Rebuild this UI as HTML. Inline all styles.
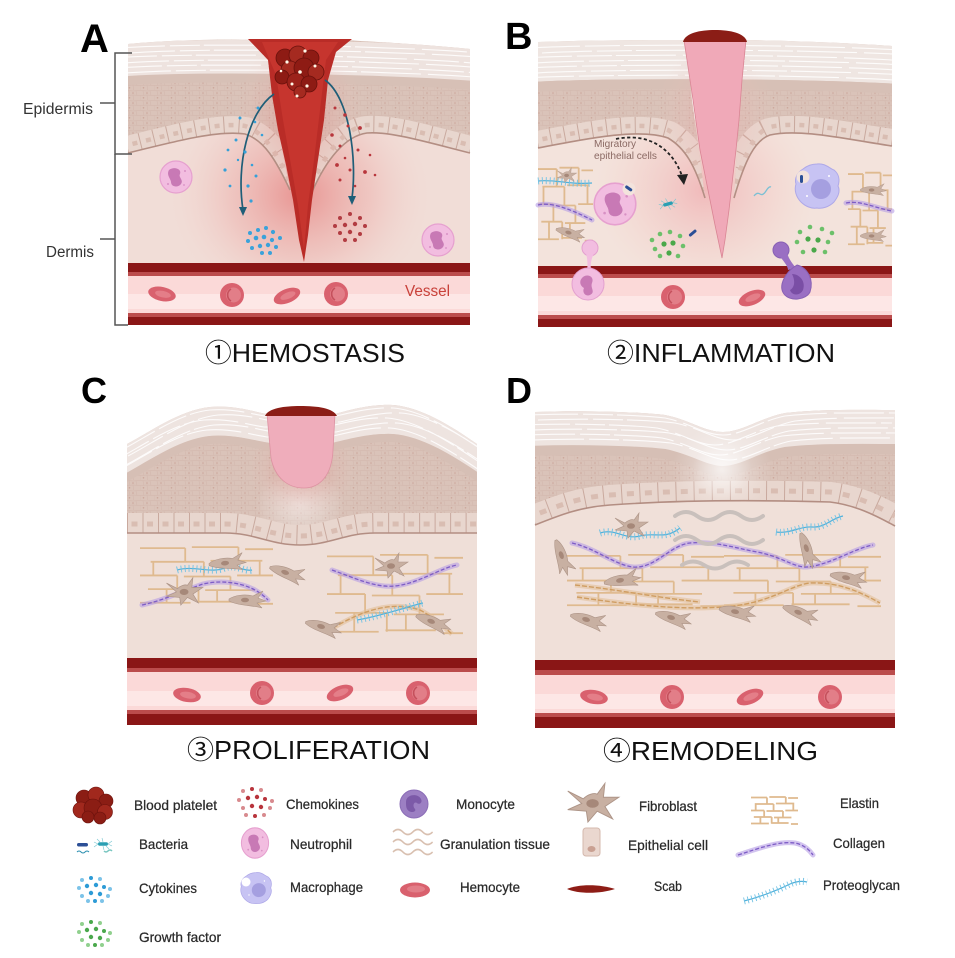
<!DOCTYPE html>
<html><head><meta charset="utf-8"><style>
html,body{margin:0;padding:0;background:#fff;}
svg{display:block;}
text{font-family:"Liberation Sans","Noto Sans CJK SC",sans-serif;}
.lg{font-size:14px;fill:#2a2a2a;stroke:#2a2a2a;stroke-width:0.25;}
.ttl{font-size:26px;fill:#111;}
.col1{fill:none;stroke:#b59ce4;stroke-width:5;opacity:.6;stroke-linecap:round}
.col2{fill:none;stroke:#7d5cc6;stroke-width:1.3;stroke-dasharray:4 2}
.pg1{fill:none;stroke:#4fb0da;stroke-width:1.2}
.pg2{fill:none;stroke:#72c2e4;stroke-width:7;stroke-dasharray:0.9 3}
.tn1{fill:none;stroke:#e2c09a;stroke-width:5;opacity:.6}
.tn2{fill:none;stroke:#cf9d62;stroke-width:1.4;stroke-dasharray:5 2}
.wv{fill:none;stroke:#c9c0bc;stroke-width:4;stroke-linecap:round}
</style></head><body>
<svg width="955" height="958" viewBox="0 0 955 958" xmlns="http://www.w3.org/2000/svg">
<defs>
 <pattern id="spin" width="14" height="10" patternUnits="userSpaceOnUse">
  <rect width="14" height="10" fill="#dac3b9"/>
  <path d="M0,0.5 L7,1 L14,0.5 M3,1 L4,5.5 M10,1 L11,5.5 M0,5.5 L7,5 L14,5.5 M7,5 L7.5,10 M0,5.5 L0,10" stroke="#cdb0a5" stroke-width="0.5" fill="none" opacity="0.7"/>
  <circle cx="7" cy="3" r="0.8" fill="#cba69b"/>
  <circle cx="3.5" cy="7.8" r="0.8" fill="#cba69b"/>
 </pattern>
 <radialGradient id="glow">
  <stop offset="0" stop-color="#e26464" stop-opacity="0.6"/>
  <stop offset="0.55" stop-color="#ea9390" stop-opacity="0.3"/>
  <stop offset="1" stop-color="#f2c9c4" stop-opacity="0"/>
 </radialGradient>
 <radialGradient id="glowP">
  <stop offset="0" stop-color="#ee8f98" stop-opacity="0.5"/>
  <stop offset="0.6" stop-color="#f2b5b4" stop-opacity="0.25"/>
  <stop offset="1" stop-color="#f2c9c4" stop-opacity="0"/>
 </radialGradient>
 <radialGradient id="wht">
  <stop offset="0" stop-color="#ffffff" stop-opacity="0.5"/>
  <stop offset="1" stop-color="#ffffff" stop-opacity="0"/>
 </radialGradient>

 <path id="tA" d="M120,44 C200,38 400,42 480,49"/>
 <path id="tB" d="M530,44 C600,40 800,40 900,46"/>
 <path id="tC" d="M120,448 C150,432 180,410 210,407 C235,405 255,412 270,414 L332,414 C350,410 370,404 393,405 C420,407 450,425 485,449"/>
 <path id="tD" d="M528,412 C580,410 640,412 665,415 C690,420 705,432 723,432 C742,432 760,418 785,413 C820,409 860,410 900,410"/>

 <path id="bAL" d="M128,153 C180,140 220,130 245,134 C264,140 276,160 290,190"/>
 <path id="bAR" d="M470,153 C430,143 390,131 367,133 C345,136 326,160 312,192"/>
 <path id="bBL" d="M538,148 C590,138 640,128 668,138 C685,148 695,165 705,198"/>
 <path id="bBR" d="M892,146 C850,140 800,128 770,135 C755,140 745,160 734,198"/>
 <path id="bC" d="M127,533 L225,533 C255,533 270,545 300,545 C330,545 345,533 375,533 L477,533"/>
 <path id="bD" d="M535,525 C560,515 580,507 610,505 C680,500 760,500 830,502 C855,505 875,515 895,526"/>

 <clipPath id="cA">
  <path d="M128,44 C170,40 220,39 258,40 L272,60 L276,110 L282,150 L290,190 C276,160 264,140 245,134 C220,130 180,140 128,153 Z"/>
  <path d="M342,40 C400,43 440,46 470,49 L470,153 C430,143 390,131 367,133 C345,136 326,160 312,192 L318,150 L324,110 L330,60 Z"/>
 </clipPath>
 <clipPath id="cB">
  <path d="M538,42 C600,40 650,40 686,40 L692,100 L699,150 L705,198 C695,165 685,148 668,138 C640,128 590,138 538,148 Z"/>
  <path d="M744,40 C800,41 850,43 892,46 L892,146 C850,140 800,128 770,135 C755,140 745,160 734,198 L738,130 L741,80 Z"/>
 </clipPath>
 <clipPath id="cC">
  <path d="M127,444 C150,432 180,410 210,407 C235,405 255,412 267,414 L335,414 C350,410 370,404 393,405 C420,407 450,425 477,444 L477,533 L375,533 C345,533 330,545 300,545 C270,545 255,533 225,533 L127,533 Z"/>
 </clipPath>
 <clipPath id="cD">
  <path d="M535,412 C580,410 640,412 665,415 C690,420 705,432 723,432 C742,432 760,418 785,413 C820,409 860,410 895,410 L895,526 C875,515 855,505 830,502 C760,500 680,500 610,505 C580,507 560,515 535,525 Z"/>
 </clipPath>

 <g id="rbc"><circle r="12" fill="#d9616e"/><circle cx="1.5" cy="0" r="7.5" fill="#e27e88"/><path d="M-1,-6 a7,7 0 0,0 0,12" fill="none" stroke="#c5505c" stroke-width="1.6"/></g>
 <g id="rbce"><ellipse rx="14" ry="7" fill="#d9616e"/><ellipse cx="1" rx="8" ry="3.3" fill="#e47e88"/></g>

 <g id="neu"><circle r="16" fill="#f2bde0" stroke="#e6a0cf" stroke-width="1.2"/><path d="M-7,-7 C-2,-11 6,-8 4,-3 C2,0 8,3 5,7 C2,11 -5,10 -5,5 C-5,2 -10,-2 -7,-7 Z" fill="#c879b5"/><circle cx="-8" cy="7" r="1" fill="#d890c4"/><circle cx="9" cy="-6" r="1" fill="#d890c4"/><circle cx="8" cy="8" r="0.9" fill="#d890c4"/></g>
 <g id="mac"><path d="M0,-22 C8,-23 12,-18 17,-16 C22,-12 23,-6 21,0 C24,6 20,12 17,16 C12,21 5,23 0,22 C-6,23 -12,20 -16,16 C-21,11 -23,4 -21,-2 C-23,-8 -19,-14 -14,-17 C-9,-21 -5,-22 0,-22 Z" fill="#c7c3f3" stroke="#aea8e8" stroke-width="1"/><circle cx="4" cy="3" r="10" fill="#a59fe0"/><circle cx="-10" cy="10" r="1" fill="#fff"/><circle cx="12" cy="-10" r="1" fill="#fff"/></g>
 <g id="mono"><circle r="14" fill="#9c7fc3" stroke="#8b6db7" stroke-width="1"/><path d="M-8,-2 C-8,-10 4,-11 7,-5 C9,-1 5,1 3,-1 C0,-3 -2,2 1,5 C3,8 -4,10 -7,5 C-8,3 -8,1 -8,-2 Z" fill="#7c5aa8"/></g>

 <g id="fbe"><path d="M-18,-1 C-12,-5 -2,-6 6,-4 L16,-9 L11,-2 L19,1 L10,3 L15,8 C5,5 -8,6 -18,1 Z" fill="#c8b0a2" stroke="#ad9487" stroke-width="0.6"/><ellipse cx="-2" cy="0" rx="4" ry="2.3" fill="#a68879"/></g>
 <g id="fbs"><path d="M-15,-9 L-5,-4 C-2,-7 2,-8 4,-7 L9,-14 L8,-5 L18,-5 L9,1 L14,9 L4,4 L-2,11 L-3,4 L-15,3 L-6,-1 Z" fill="#c8b0a2" stroke="#ad9487" stroke-width="0.6"/><ellipse cx="1" cy="-1" rx="4" ry="2.8" fill="#a68879"/></g>

 <g id="el" fill="none" stroke="#dfba8f" stroke-width="1.8">
  <path vector-effect="non-scaling-stroke" d="M0,3 H34 M39,2 H74 M79,4 H100 M8,16 H48 M53,15 H92 M0,29 H28 M33,30 H68 M73,29 H100 M6,42 H44 M49,43 H86 M0,55 H38 M43,54 H80 M85,56 H100 M34,3 V16 M48,16 V30 M74,2 V15 M28,29 V42 M68,30 V43 M20,42 V55 M90,15 V29 M10,16 V29 M58,43 V54 M44,42 V55"/>
 </g>
 <g id="bact"><rect x="-5" y="-1.7" width="10" height="3.4" rx="1.7" fill="#2a9fb3"/><path d="M-5,0 l-4,-2 M-5,0 l-4,3 M5,0 l4,-3 M5,0 l4,2 M0,-2 l-1,-4 M0,2 l1,4 M-3,-2 l-3,-3 M3,2 l3,3" stroke="#78c6d0" stroke-width="0.6"/></g>
 <path id="wvL" d="M0,0 q5.5,-5 11,0 t11,0 t11,0 t11,0"/>
</defs>

<!-- ================= PANEL A ================= -->
<rect x="128" y="120" width="342" height="145" fill="#f1ddd7"/>
<ellipse cx="300" cy="195" rx="130" ry="115" fill="url(#glow)"/>
<g clip-path="url(#cA)">
 <rect x="120" y="30" width="360" height="200" fill="url(#spin)"/>
 <use href="#tA" transform="translate(0,16)" fill="none" stroke="#eee3df" stroke-width="34"/>
 <g fill="none" stroke="#fff" stroke-width="1.1" opacity="0.85" stroke-dasharray="45 5 30 4 60 7">
  <use href="#tA" transform="translate(0,4)"/><use href="#tA" transform="translate(10,9)"/><use href="#tA" transform="translate(-8,14)"/>
  <use href="#tA" transform="translate(4,19)"/><use href="#tA" transform="translate(-3,24)"/><use href="#tA" transform="translate(6,29)"/>
 </g>
 <use href="#tA" transform="translate(0,37)" fill="none" stroke="#d7c0b6" stroke-width="9"/>
 <g fill="none" stroke="#e8d6ce" stroke-width="34"><use href="#bAL"/><use href="#bAR"/></g>
 <g fill="none" stroke="#c9a99e" stroke-width="34" stroke-dasharray="1 13"><use href="#bAL"/><use href="#bAR"/></g>
 <g fill="none" stroke="#d9bdb2" stroke-width="4.5" stroke-dasharray="5 9" stroke-dashoffset="-4.5"><use href="#bAL" transform="translate(0,-8)"/><use href="#bAR" transform="translate(0,-8)"/></g>
 <ellipse cx="300" cy="120" rx="65" ry="85" fill="url(#glow)" opacity="0.6"/>
</g>
<g fill="none" stroke="#b38e83" stroke-width="1.6"><use href="#bAL"/><use href="#bAR"/></g>
<!-- wound -->
<path d="M248,39 L352,39 L336,52 L328,80 L324,120 L318,160 L312,200 L308,235 L304,262 L299,240 L293,200 L286,165 L278,130 L272,95 L268,60 Z" fill="#b92c27"/>
<path d="M262,42 L338,42 L326,60 L320,110 L314,160 L308,205 L304,250 L298,205 L291,165 L283,120 L276,75 Z" fill="#c6352e"/>
<!-- clot -->
<g stroke="#6a110c" stroke-width="0.8">
 <circle cx="285" cy="58" r="9" fill="#8e1b14"/><circle cx="298" cy="55" r="9" fill="#a52a20"/><circle cx="311" cy="58" r="8" fill="#8e1b14"/>
 <circle cx="290" cy="70" r="9" fill="#a52a20"/><circle cx="304" cy="68" r="10" fill="#8e1b14"/><circle cx="316" cy="72" r="8" fill="#a52a20"/>
 <circle cx="282" cy="77" r="7" fill="#8e1b14"/><circle cx="296" cy="82" r="9" fill="#9c221a"/><circle cx="309" cy="84" r="8" fill="#8e1b14"/><circle cx="300" cy="92" r="6" fill="#a52a20"/>
</g>
<g fill="#fff8e8"><circle cx="287" cy="62" r="1.6"/><circle cx="305" cy="51" r="1.6"/><circle cx="300" cy="72" r="1.8"/><circle cx="315" cy="66" r="1.5"/><circle cx="292" cy="84" r="1.5"/><circle cx="307" cy="86" r="1.6"/><circle cx="297" cy="96" r="1.5"/><circle cx="281" cy="71" r="1.3"/></g>
<!-- arrows -->
<path d="M274,94 C248,112 236,165 243,210" fill="none" stroke="#1f5e78" stroke-width="1.7"/>
<path d="M239,207 L247,207 L243,216 Z" fill="#1f5e78"/>
<path d="M325,80 C350,98 357,160 352,198" fill="none" stroke="#1f5e78" stroke-width="1.7"/>
<path d="M348,196 L356,196 L352,205 Z" fill="#1f5e78"/>
<!-- cytokines -->
<g fill="#36a0d8">
 <circle cx="258" cy="108" r="1.5"/><circle cx="240" cy="118" r="1.5"/><circle cx="255" cy="122" r="1.3"/><circle cx="236" cy="140" r="1.5"/><circle cx="262" cy="135" r="1.3"/>
 <circle cx="228" cy="150" r="1.4"/><circle cx="245" cy="152" r="1.6"/><circle cx="225" cy="170" r="1.6"/><circle cx="252" cy="165" r="1.3"/><circle cx="256" cy="176" r="1.5"/>
 <circle cx="230" cy="186" r="1.4"/><circle cx="248" cy="186" r="1.6"/><circle cx="251" cy="201" r="1.6"/><circle cx="238" cy="160" r="1.2"/>
</g>
<g fill="#3aa2da">
 <circle cx="250" cy="233" r="2"/><circle cx="258" cy="230" r="2"/><circle cx="266" cy="228" r="2"/><circle cx="273" cy="232" r="2.1"/><circle cx="248" cy="241" r="2"/>
 <circle cx="256" cy="238" r="2.3"/><circle cx="264" cy="237" r="2.3"/><circle cx="272" cy="240" r="2.1"/><circle cx="280" cy="238" r="2"/><circle cx="252" cy="248" r="2"/>
 <circle cx="260" cy="246" r="2.2"/><circle cx="268" cy="245" r="2.2"/><circle cx="276" cy="247" r="2"/><circle cx="262" cy="253" r="2"/><circle cx="270" cy="253" r="2"/>
</g>
<!-- chemokines -->
<g fill="#b8363c">
 <circle cx="335" cy="108" r="1.5"/><circle cx="345" cy="115" r="1.8"/><circle cx="348" cy="126" r="1.5"/><circle cx="332" cy="135" r="1.8"/><circle cx="360" cy="128" r="1.9"/>
 <circle cx="340" cy="146" r="1.5"/><circle cx="358" cy="150" r="1.5"/><circle cx="370" cy="155" r="1.3"/><circle cx="337" cy="165" r="1.9"/><circle cx="350" cy="170" r="1.5"/>
 <circle cx="365" cy="172" r="1.9"/><circle cx="375" cy="175" r="1.3"/><circle cx="340" cy="180" r="1.5"/><circle cx="355" cy="186" r="1.3"/><circle cx="345" cy="158" r="1.3"/>
</g>
<g fill="#b23c42">
 <circle cx="340" cy="218" r="2"/><circle cx="350" cy="214" r="2"/><circle cx="360" cy="218" r="2"/><circle cx="335" cy="226" r="2"/><circle cx="345" cy="225" r="2.2"/>
 <circle cx="355" cy="224" r="2.2"/><circle cx="365" cy="226" r="2"/><circle cx="340" cy="233" r="2"/><circle cx="350" cy="232" r="2.2"/><circle cx="360" cy="234" r="2"/><circle cx="345" cy="240" r="2"/><circle cx="355" cy="240" r="2"/>
</g>
<use href="#neu" transform="translate(176,177)"/>
<use href="#neu" transform="translate(438,240)"/>
<!-- vessel A -->
<rect x="128" y="263" width="342" height="10" fill="#8a1616"/>
<rect x="128" y="272" width="342" height="4" fill="#bb4c4c"/>
<rect x="128" y="276" width="342" height="37" fill="#fbd9d8"/>
<rect x="128" y="294" width="342" height="15" fill="#fde7e6"/>
<rect x="128" y="313" width="342" height="4" fill="#bb4c4c"/>
<rect x="128" y="317" width="342" height="8" fill="#8a1616"/>
<use href="#rbce" transform="translate(162,294) rotate(12)"/>
<use href="#rbc" transform="translate(232,295)"/>
<use href="#rbce" transform="translate(287,296) rotate(-22)"/>
<use href="#rbc" transform="translate(336,294)"/>
<text x="405" y="296" font-size="16" fill="#c8413a" textLength="45" lengthAdjust="spacingAndGlyphs">Vessel</text>

<!-- brackets -->
<g fill="none" stroke="#555" stroke-width="1.5">
 <path d="M132,53 H115 V154 H132"/>
 <path d="M100,103 H115"/>
 <path d="M115,154 V325 H128"/>
 <path d="M100,239 H115"/>
</g>
<text x="23" y="114" font-size="15.5" fill="#333" textLength="70" lengthAdjust="spacingAndGlyphs">Epidermis</text>
<text x="46" y="257" font-size="15.5" fill="#333" textLength="48" lengthAdjust="spacingAndGlyphs">Dermis</text>
<text x="80" y="52" font-size="40" font-weight="bold" fill="#000">A</text>

<!-- ================= PANEL B ================= -->
<rect x="538" y="120" width="354" height="147" fill="#f3e3dc"/>
<ellipse cx="705" cy="190" rx="110" ry="100" fill="url(#glowP)"/>
<g clip-path="url(#cB)">
 <rect x="530" y="30" width="370" height="200" fill="url(#spin)"/>
 <use href="#tB" transform="translate(0,18)" fill="none" stroke="#efe6e2" stroke-width="40"/>
 <g fill="none" stroke="#fff" stroke-width="1.1" opacity="0.85" stroke-dasharray="50 5 35 4 60 7">
  <use href="#tB" transform="translate(0,4)"/><use href="#tB" transform="translate(12,9)"/><use href="#tB" transform="translate(-8,14)"/>
  <use href="#tB" transform="translate(4,19)"/><use href="#tB" transform="translate(-3,24)"/><use href="#tB" transform="translate(6,29)"/><use href="#tB" transform="translate(-6,34)"/>
 </g>
 <use href="#tB" transform="translate(0,43)" fill="none" stroke="#d7c0b6" stroke-width="10"/>
 <g fill="none" stroke="#e8d6ce" stroke-width="34"><use href="#bBL"/><use href="#bBR"/></g>
 <g fill="none" stroke="#c9a99e" stroke-width="34" stroke-dasharray="1 13"><use href="#bBL"/><use href="#bBR"/></g>
 <g fill="none" stroke="#d9bdb2" stroke-width="4.5" stroke-dasharray="5 9" stroke-dashoffset="-4.5"><use href="#bBL" transform="translate(0,-8)"/><use href="#bBR" transform="translate(0,-8)"/></g>
 <ellipse cx="715" cy="120" rx="60" ry="80" fill="url(#glowP)" opacity="0.6"/>
</g>
<g fill="none" stroke="#b38e83" stroke-width="1.6"><use href="#bBL"/><use href="#bBR"/></g>
<path d="M684,40 L746,40 L742,80 L739,120 L736,150 L733,175 L729,210 L725,240 L722,258 L715,225 L708,190 L700,150 L693,100 Z" fill="#f0a9b8" stroke="#d98594" stroke-width="0.8"/>
<path d="M683,42 C685,33 700,30 715,30 C730,30 745,33 747,42 Z" fill="#8b1d16"/>
<!-- fibers left -->
<use href="#el" transform="translate(538,165) scale(0.55,1.35)"/>
<path class="pg1" d="M538,181 C555,179 570,185 592,183"/><path class="pg2" d="M538,181 C555,179 570,185 592,183"/>
<path class="col1" d="M538,205 C550,202 565,208 575,212 C582,215 588,218 592,220"/><path class="col2" d="M538,205 C550,202 565,208 575,212 C582,215 588,218 592,220"/>
<use href="#fbs" transform="translate(566,176) scale(0.6)"/>
<use href="#fbe" transform="translate(570,233) rotate(15) scale(0.8)"/>
<!-- fibers right -->
<use href="#el" transform="translate(848,170) scale(0.44,1.35)"/>
<path class="col1" d="M846,203 C860,200 875,208 892,211"/><path class="col2" d="M846,203 C860,200 875,208 892,211"/>
<use href="#fbe" transform="translate(873,190) scale(0.7)"/>
<use href="#fbe" transform="translate(873,236) scale(0.7)"/>
<!-- migratory -->
<path d="M616,139 C650,132 673,150 682,176" fill="none" stroke="#222" stroke-width="1.8" stroke-dasharray="3.2 2.4"/>
<path d="M677,175 L688,174 L684,185 Z" fill="#222"/>
<text x="594" y="147" font-size="10.5" fill="#8b6a64" textLength="42" lengthAdjust="spacingAndGlyphs">Migratory</text>
<text x="594" y="159" font-size="10.5" fill="#8b6a64" textLength="63" lengthAdjust="spacingAndGlyphs">epithelial cells</text>
<!-- cells B -->
<use href="#neu" transform="translate(615,204) scale(1.3)"/>
<circle cx="629" cy="189" r="6.5" fill="#f3e3dc"/>
<rect x="625" y="187" width="8" height="3" rx="1.5" fill="#2c4f96" transform="rotate(35 629 188)"/>
<use href="#mac" transform="translate(817,186)"/>
<circle cx="803" cy="177" r="6.5" fill="#f3e3dc"/>
<rect x="800" y="175" width="3" height="8" rx="1.5" fill="#2c4f96"/>
<use href="#bact" transform="translate(668,204) rotate(-15)"/>
<rect x="688" y="232" width="9" height="3" rx="1.5" fill="#2c4f96" transform="rotate(-40 692 233)"/>
<path d="M754,196 q3,-4 6,-2 t6,-3 t5,-4" fill="none" stroke="#7cc0d4" stroke-width="1.3"/>
<g fill="#6cc06a">
 <circle cx="652" cy="240" r="2.3"/><circle cx="660" cy="234" r="2.3"/><circle cx="670" cy="232" r="2.3"/><circle cx="680" cy="236" r="2.3"/><circle cx="655" cy="249" r="2.3"/>
 <circle cx="664" cy="244" r="2.6" fill="#4aa84a"/><circle cx="673" cy="243" r="2.6" fill="#4aa84a"/><circle cx="683" cy="246" r="2.3"/><circle cx="660" cy="256" r="2.3"/><circle cx="669" cy="253" r="2.6" fill="#4aa84a"/><circle cx="678" cy="256" r="2.3"/>
</g>
<g fill="#6cc06a">
 <circle cx="800" cy="232" r="2.3"/><circle cx="810" cy="227" r="2.3"/><circle cx="822" cy="229" r="2.3"/><circle cx="832" cy="233" r="2.3"/><circle cx="797" cy="242" r="2.3"/>
 <circle cx="808" cy="239" r="2.6" fill="#4aa84a"/><circle cx="818" cy="240" r="2.6" fill="#4aa84a"/><circle cx="828" cy="242" r="2.3"/><circle cx="803" cy="252" r="2.3"/><circle cx="814" cy="250" r="2.6" fill="#4aa84a"/><circle cx="825" cy="252" r="2.3"/>
</g>
<!-- vessel B -->
<rect x="538" y="266" width="354" height="9" fill="#8a1616"/>
<rect x="538" y="274" width="354" height="4" fill="#bb4c4c"/>
<rect x="538" y="278" width="354" height="37" fill="#fbd9d8"/>
<rect x="538" y="296" width="354" height="15" fill="#fde7e6"/>
<rect x="538" y="315" width="354" height="4" fill="#bb4c4c"/>
<rect x="538" y="319" width="354" height="8" fill="#8a1616"/>
<use href="#rbc" transform="translate(673,297)"/>
<use href="#rbce" transform="translate(752,298) rotate(-22)"/>
<!-- transmigrating -->
<g fill="#f2bde0" stroke="#e3a0cf" stroke-width="1">
 <circle cx="590" cy="248" r="8"/>
 <path d="M586,253 C588,262 588,268 586,272 L592,272 C590,268 590,262 594,253 Z" stroke="none"/>
 <circle cx="588" cy="284" r="16"/>
</g>
<path d="M582,278 C586,273 595,276 592,283 C590,288 596,292 590,295 C585,297 582,292 584,288 C580,286 579,281 582,278 Z" fill="#c879b5"/>
<g fill="#9a6fc3" stroke="#8760b4" stroke-width="1">
 <circle cx="781" cy="250" r="8"/>
 <path d="M779,255 C784,262 788,266 788,270 L796,268 C792,263 788,258 787,252 Z" stroke="none"/>
 <path d="M797,265 C808,268 814,280 810,292 C806,300 790,302 784,294 C778,286 785,272 797,265 Z"/>
</g>
<path d="M792,274 C800,274 806,282 803,290 C800,296 792,296 790,290 C794,288 796,282 792,274 Z" fill="#7a4ea5"/>
<text x="505" y="49" font-size="38" font-weight="bold" fill="#000">B</text>

<!-- ================= PANEL C ================= -->
<rect x="127" y="480" width="350" height="180" fill="#efdfd8"/>
<g clip-path="url(#cC)">
 <rect x="120" y="400" width="365" height="150" fill="url(#spin)"/>
 <use href="#tC" transform="translate(0,14)" fill="none" stroke="#eee4e0" stroke-width="30"/>
 <g fill="none" stroke="#fff" stroke-width="1.1" opacity="0.85" stroke-dasharray="40 5 30 4 55 7">
  <use href="#tC" transform="translate(0,3)"/><use href="#tC" transform="translate(8,8)"/><use href="#tC" transform="translate(-6,13)"/>
  <use href="#tC" transform="translate(4,18)"/><use href="#tC" transform="translate(-3,23)"/>
 </g>
 <use href="#tC" transform="translate(0,33)" fill="none" stroke="#d6bfb5" stroke-width="8"/>
 <ellipse cx="300" cy="505" rx="45" ry="35" fill="url(#wht)"/>
 <g fill="none" stroke="#e8d6ce" stroke-width="40"><use href="#bC"/></g>
 <g fill="none" stroke="#c9a99e" stroke-width="40" stroke-dasharray="1 14.5"><use href="#bC"/></g>
 <g fill="none" stroke="#d9bdb2" stroke-width="5" stroke-dasharray="6 9.5" stroke-dashoffset="-4.5"><use href="#bC" transform="translate(0,-9)"/></g>
 <ellipse cx="302" cy="470" rx="55" ry="50" fill="url(#glow)" opacity="0.5"/>
</g>
<use href="#bC" fill="none" stroke="#b38e83" stroke-width="1.6"/>
<path d="M267,414 L335,414 L333,450 C332,475 320,488 304,488 C288,488 275,478 271,458 Z" fill="#efadbb" stroke="#dd92a2" stroke-width="0.8"/>
<path d="M265,416 C268,408 285,406 300,406 C318,406 333,408 337,416 Z" fill="#8b1d16"/>
<!-- fibers C -->
<use href="#el" transform="translate(140,545) scale(1.33,1.05)"/>
<use href="#el" transform="translate(327,552) scale(1.36,1.45)"/>
<path class="pg1" d="M177,570 C195,565 210,574 225,568 C235,564 245,572 252,570"/><path class="pg2" d="M177,570 C195,565 210,574 225,568 C235,564 245,572 252,570"/>
<path class="col1" d="M142,605 C165,600 185,590 203,584 C220,580 240,582 255,590 C262,594 266,598 268,600"/><path class="col2" d="M142,605 C165,600 185,590 203,584 C220,580 240,582 255,590 C262,594 266,598 268,600"/>
<path class="tn1" d="M333,628 C360,612 390,600 420,610 C435,618 445,628 452,634"/><path class="tn2" d="M333,628 C360,612 390,600 420,610 C435,618 445,628 452,634"/>
<path class="col1" d="M332,570 C355,578 375,588 395,586 C420,583 440,568 457,565"/><path class="col2" d="M332,570 C355,578 375,588 395,586 C420,583 440,568 457,565"/>
<path class="pg1" d="M357,620 C375,617 390,612 405,608 C412,606 418,604 423,603"/><path class="pg2" d="M357,620 C375,617 390,612 405,608 C412,606 418,604 423,603"/>
<use href="#fbe" transform="translate(227,563) rotate(-5)"/>
<use href="#fbs" transform="translate(183,593) scale(1.1)"/>
<use href="#fbe" transform="translate(287,573) rotate(18)"/>
<use href="#fbe" transform="translate(247,600)"/>
<use href="#fbs" transform="translate(390,567)"/>
<use href="#fbe" transform="translate(323,627) rotate(15)"/>
<use href="#fbe" transform="translate(433,622) rotate(20)"/>
<!-- vessel C -->
<rect x="127" y="658" width="350" height="10" fill="#8a1616"/>
<rect x="127" y="668" width="350" height="4" fill="#bb4c4c"/>
<rect x="127" y="672" width="350" height="38" fill="#fbd9d8"/>
<rect x="127" y="691" width="350" height="15" fill="#fde7e6"/>
<rect x="127" y="710" width="350" height="4" fill="#bb4c4c"/>
<rect x="127" y="714" width="350" height="11" fill="#8a1616"/>
<use href="#rbce" transform="translate(187,695) rotate(10)"/>
<use href="#rbc" transform="translate(262,693)"/>
<use href="#rbce" transform="translate(340,693) rotate(-22)"/>
<use href="#rbc" transform="translate(418,693)"/>
<text x="81" y="403" font-size="36" font-weight="bold" fill="#000">C</text>

<!-- ================= PANEL D ================= -->
<rect x="535" y="480" width="360" height="182" fill="#f0e0d9"/>
<g clip-path="url(#cD)">
 <rect x="528" y="400" width="372" height="140" fill="url(#spin)"/>
 <use href="#tD" transform="translate(0,17)" fill="none" stroke="#eee4e0" stroke-width="36"/>
 <g fill="none" stroke="#fff" stroke-width="1.1" opacity="0.85" stroke-dasharray="50 5 30 4 60 7">
  <use href="#tD" transform="translate(0,3)"/><use href="#tD" transform="translate(10,8)"/><use href="#tD" transform="translate(-8,13)"/>
  <use href="#tD" transform="translate(4,18)"/><use href="#tD" transform="translate(-3,23)"/><use href="#tD" transform="translate(6,28)"/>
 </g>
 <use href="#tD" transform="translate(0,39)" fill="none" stroke="#d6bfb5" stroke-width="10"/>
 <g fill="none" stroke="#e8d6ce" stroke-width="40"><use href="#bD"/></g>
 <g fill="none" stroke="#c9a99e" stroke-width="40" stroke-dasharray="1 17"><use href="#bD"/></g>
 <g fill="none" stroke="#d9bdb2" stroke-width="5" stroke-dasharray="7 11" stroke-dashoffset="-5"><use href="#bD" transform="translate(0,-10)"/></g>
 <ellipse cx="722" cy="470" rx="50" ry="45" fill="url(#wht)"/>
 <ellipse cx="722" cy="470" rx="30" ry="30" fill="url(#wht)"/>
</g>
<use href="#bD" fill="none" stroke="#b38e83" stroke-width="1.6"/>
<!-- fibers D -->
<use href="#el" transform="translate(567,553) scale(1.57,0.95)"/>
<use href="#el" transform="translate(724,553) scale(1.57,0.95)"/>
<path class="tn1" d="M575,585 C620,590 660,598 700,602"/><path class="tn2" d="M575,585 C620,590 660,598 700,602"/>
<path class="tn1" d="M577,597 C630,605 680,610 723,607 C770,604 790,585 810,583 C840,582 860,592 880,603"/><path class="tn2" d="M577,597 C630,605 680,610 723,607 C770,604 790,585 810,583 C840,582 860,592 880,603"/>
<path class="col1" d="M572,543 C595,548 615,565 633,567 C655,569 670,545 690,543 C715,541 735,548 757,552 C780,556 795,568 807,567 C830,565 855,548 873,545"/>
<path class="col2" d="M572,543 C595,548 615,565 633,567 C655,569 670,545 690,543 C715,541 735,548 757,552 C780,556 795,568 807,567 C830,565 855,548 873,545"/>
<path class="pg1" d="M600,533 C615,528 625,540 640,536 C655,532 665,540 680,528"/><path class="pg2" d="M600,533 C615,528 625,540 640,536 C655,532 665,540 680,528"/>
<path class="pg1" d="M776,532 C790,534 800,526 812,527 C825,528 832,518 843,516"/><path class="pg2" d="M776,532 C790,534 800,526 812,527 C825,528 832,518 843,516"/>
<path class="wv" d="M675,516 q11,-8 22,0 t22,0 t22,0 t22,0"/>
<path class="wv" d="M675,540 q11,-8 22,0 t22,0 t22,0 t22,0"/>
<path class="wv" d="M682,565 q11,-7 22,0 t22,0 t22,0"/>
<use href="#fbs" transform="translate(630,527)"/>
<use href="#fbe" transform="translate(562,557) rotate(70)"/>
<use href="#fbe" transform="translate(807,550) rotate(70)"/>
<use href="#fbe" transform="translate(588,620) rotate(15)"/>
<use href="#fbe" transform="translate(673,618) rotate(15)"/>
<use href="#fbe" transform="translate(737,612) rotate(10)"/>
<use href="#fbe" transform="translate(800,613) rotate(20)"/>
<use href="#fbe" transform="translate(848,578) rotate(10)"/>
<use href="#fbe" transform="translate(622,580) rotate(-10)"/>
<!-- vessel D -->
<rect x="535" y="660" width="360" height="10" fill="#8a1616"/>
<rect x="535" y="670" width="360" height="5" fill="#bb4c4c"/>
<rect x="535" y="675" width="360" height="38" fill="#fbd9d8"/>
<rect x="535" y="694" width="360" height="15" fill="#fde7e6"/>
<rect x="535" y="713" width="360" height="4" fill="#bb4c4c"/>
<rect x="535" y="717" width="360" height="11" fill="#8a1616"/>
<use href="#rbce" transform="translate(594,697) rotate(10)"/>
<use href="#rbc" transform="translate(672,697)"/>
<use href="#rbce" transform="translate(750,697) rotate(-22)"/>
<use href="#rbc" transform="translate(830,697)"/>
<text x="506" y="403" font-size="36" font-weight="bold" fill="#000">D</text>

<!-- titles -->
<text class="ttl" x="205" y="362" textLength="200" lengthAdjust="spacingAndGlyphs">①HEMOSTASIS</text>
<text class="ttl" x="607" y="362" textLength="228" lengthAdjust="spacingAndGlyphs">②INFLAMMATION</text>
<text class="ttl" x="187" y="759" textLength="243" lengthAdjust="spacingAndGlyphs">③PROLIFERATION</text>
<text class="ttl" x="603" y="760" textLength="215" lengthAdjust="spacingAndGlyphs">④REMODELING</text>

<!-- ================= LEGEND ================= -->
<g stroke="#6a110c" stroke-width="0.6">
 <circle cx="84" cy="798" r="8" fill="#8b1d14"/><circle cx="96" cy="795" r="8" fill="#a1281d"/><circle cx="106" cy="801" r="7" fill="#8b1d14"/>
 <circle cx="81" cy="810" r="8" fill="#a1281d"/><circle cx="93" cy="808" r="9" fill="#8b1d14"/><circle cx="105" cy="812" r="7.5" fill="#a1281d"/>
 <circle cx="88" cy="817" r="6" fill="#8b1d14"/><circle cx="100" cy="818" r="6" fill="#8b1d14"/>
</g>
<text class="lg" x="134" y="810" textLength="83" lengthAdjust="spacingAndGlyphs">Blood platelet</text>
<g transform="translate(255,803)">
 <g fill="#d88a8e"><circle cx="-12" cy="-12" r="2"/><circle cx="6" cy="-13" r="2"/><circle cx="-16" cy="-3" r="2"/><circle cx="17" cy="-2" r="2"/><circle cx="-12" cy="5" r="2"/><circle cx="15" cy="5" r="2"/><circle cx="-9" cy="12" r="2"/><circle cx="9" cy="12" r="2"/></g>
 <g fill="#b8343c"><circle cx="-3" cy="-14" r="2"/><circle cx="-7" cy="-5" r="2.2"/><circle cx="2" cy="-6" r="2.2"/><circle cx="10" cy="-4" r="2"/><circle cx="-3" cy="3" r="2.2"/><circle cx="6" cy="4" r="2.2"/><circle cx="0" cy="13" r="2"/></g>
</g>
<text class="lg" x="286" y="809" textLength="73" lengthAdjust="spacingAndGlyphs">Chemokines</text>
<use href="#mono" transform="translate(414,804)"/>
<text class="lg" x="456" y="809" textLength="59" lengthAdjust="spacingAndGlyphs">Monocyte</text>
<use href="#fbs" transform="translate(591,805) scale(1.55)"/>
<text class="lg" x="639" y="811" textLength="58" lengthAdjust="spacingAndGlyphs">Fibroblast</text>
<use href="#el" transform="translate(751,796) scale(0.47,0.5)"/>
<text class="lg" x="840" y="808" textLength="39" lengthAdjust="spacingAndGlyphs">Elastin</text>

<rect x="77" y="843" width="11" height="3.5" rx="1.7" fill="#2c4f96"/>
<use href="#bact" transform="translate(103,844)"/>
<path d="M77,852 q2,-2 4,0 t4,0 t4,0" fill="none" stroke="#2a8fb0" stroke-width="1"/>
<path d="M104,851 q2,2 4,0 t4,0" fill="none" stroke="#78c6c0" stroke-width="1.5"/>
<text class="lg" x="139" y="849" textLength="49" lengthAdjust="spacingAndGlyphs">Bacteria</text>
<g transform="translate(255,843) scale(0.85,0.95)"><use href="#neu"/></g>
<text class="lg" x="290" y="849" textLength="62" lengthAdjust="spacingAndGlyphs">Neutrophil</text>
<g fill="none" stroke="#d9c0b0" stroke-width="1.6">
 <use href="#wvL" transform="translate(393,832) scale(0.9,1)"/><use href="#wvL" transform="translate(393,842) scale(0.9,1)"/><use href="#wvL" transform="translate(393,852) scale(0.9,1)"/>
</g>
<text class="lg" x="440" y="849" textLength="110" lengthAdjust="spacingAndGlyphs">Granulation tissue</text>
<rect x="583" y="828" width="17" height="28" rx="3" fill="#ead7cf" stroke="#d4b8ad" stroke-width="1"/>
<ellipse cx="591.5" cy="849" rx="4" ry="3" fill="#c9a092"/>
<text class="lg" x="628" y="850" textLength="80" lengthAdjust="spacingAndGlyphs">Epithelial cell</text>
<path class="col1" d="M738,855 C760,848 778,841 795,843 C805,845 810,851 813,855"/><path class="col2" d="M738,855 C760,848 778,841 795,843 C805,845 810,851 813,855"/>
<text class="lg" x="833" y="848" textLength="52" lengthAdjust="spacingAndGlyphs">Collagen</text>

<g transform="translate(94,890)">
 <g fill="#7cc3e8"><circle cx="-12" cy="-10" r="2"/><circle cx="6" cy="-11" r="2"/><circle cx="-15" cy="-2" r="2"/><circle cx="16" cy="-1" r="2"/><circle cx="-12" cy="6" r="2"/><circle cx="14" cy="6" r="2"/><circle cx="-6" cy="11" r="2"/><circle cx="8" cy="11" r="2"/></g>
 <g fill="#2d9bd6"><circle cx="-3" cy="-12" r="2"/><circle cx="-7" cy="-4" r="2.2"/><circle cx="2" cy="-5" r="2.2"/><circle cx="10" cy="-3" r="2"/><circle cx="-3" cy="3" r="2.2"/><circle cx="6" cy="4" r="2.2"/><circle cx="1" cy="11" r="2"/></g>
</g>
<text class="lg" x="139" y="893" textLength="58" lengthAdjust="spacingAndGlyphs">Cytokines</text>
<g transform="translate(256,888) scale(0.7)"><use href="#mac"/></g>
<circle cx="246" cy="882" r="4.5" fill="#fff"/>
<text class="lg" x="290" y="892" textLength="73" lengthAdjust="spacingAndGlyphs">Macrophage</text>
<ellipse cx="415" cy="890" rx="15" ry="7.5" fill="#d9616e"/><ellipse cx="416" cy="889" rx="9" ry="3.5" fill="#e27e88"/>
<text class="lg" x="460" y="892" textLength="60" lengthAdjust="spacingAndGlyphs">Hemocyte</text>
<path d="M567,889 C578,884 600,884 615,889 C600,894 578,894 567,889 Z" fill="#8e1d16"/>
<text class="lg" x="654" y="891" textLength="28" lengthAdjust="spacingAndGlyphs">Scab</text>
<path class="pg1" d="M744,901 C760,897 778,890 790,884 C797,881 803,881 807,882"/><path class="pg2" d="M744,901 C760,897 778,890 790,884 C797,881 803,881 807,882"/>
<text class="lg" x="823" y="890" textLength="77" lengthAdjust="spacingAndGlyphs">Proteoglycan</text>

<g transform="translate(94,934)">
 <g fill="#90d08e"><circle cx="-12" cy="-10" r="2"/><circle cx="6" cy="-11" r="2"/><circle cx="-15" cy="-2" r="2"/><circle cx="16" cy="-1" r="2"/><circle cx="-12" cy="6" r="2"/><circle cx="14" cy="6" r="2"/><circle cx="-6" cy="11" r="2"/><circle cx="8" cy="11" r="2"/></g>
 <g fill="#4aa84c"><circle cx="-3" cy="-12" r="2"/><circle cx="-7" cy="-4" r="2.2"/><circle cx="2" cy="-5" r="2.2"/><circle cx="10" cy="-3" r="2"/><circle cx="-3" cy="3" r="2.2"/><circle cx="6" cy="4" r="2.2"/><circle cx="1" cy="11" r="2"/></g>
</g>
<text class="lg" x="139" y="942" textLength="82" lengthAdjust="spacingAndGlyphs">Growth factor</text>
</svg>
</body></html>
